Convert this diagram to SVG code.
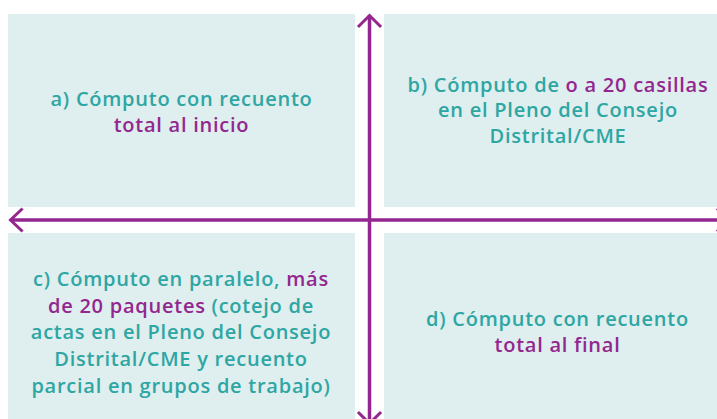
<svg xmlns="http://www.w3.org/2000/svg" width="717" height="419" viewBox="0 0 717 419">
<defs>
<style>
.box{fill:#DFEEEE;}
.t{font-family:"Open Sans","Noto Sans",sans-serif;font-weight:600;font-size:20px;letter-spacing:0.75px;fill:#2EA6A3;text-anchor:middle;}
.p{fill:#93278F;}
.ax{stroke:#93278F;stroke-width:3.5;fill:none;}
.hd{stroke:#93278F;stroke-width:3;fill:none;stroke-linecap:square;stroke-linejoin:miter;}
</style>
</defs>
<rect width="717" height="419" fill="#FFFFFF"/>
<g id="node-a">
<rect class="box" x="8" y="14" width="347" height="193"/>
<text class="t" x="181.5" y="106">a) Cómputo con recuento</text>
<text class="t p" x="181.5" y="131.7">total al inicio</text>
</g>
<g id="node-b">
<rect class="box" x="384" y="14" width="347" height="193"/>
<text class="t" x="558" y="91.7">b) Cómputo de <tspan class="p">o a 20 casillas</tspan></text>
<text class="t" x="558" y="117.2">en el Pleno del Consejo</text>
<text class="t" x="558" y="143">Distrital/CME</text>
</g>
<g id="node-c">
<rect class="box" x="8" y="233" width="347" height="193"/>
<text class="t" x="181" y="286">c) Cómputo en paralelo, <tspan class="p">más</tspan></text>
<text class="t" x="181" y="312.7"><tspan class="p">de 20 paquetes</tspan> (cotejo de</text>
<text class="t" x="181" y="339.4">actas en el Pleno del Consejo</text>
<text class="t" x="181" y="366.1">Distrital/CME y recuento</text>
<text class="t" x="181" y="392.8">parcial en grupos de trabajo)</text>
</g>
<g id="node-d">
<rect class="box" x="384" y="233" width="347" height="193"/>
<text class="t" x="557.5" y="326">d) Cómputo con recuento</text>
<text class="t p" x="557.5" y="351.7">total al final</text>
</g>
<g id="connectors">
<path class="ax" d="M369.5 15 V426"/>
<path class="ax" d="M10 220 H729"/>
<path class="hd" d="M359 26 L369.5 15.5 L380 26"/>
<path class="hd" d="M359 413 L369.5 423.5 L380 413"/>
<path class="hd" d="M21.5 209.5 L10.5 220 L21.5 230.5"/>
<path class="hd" d="M718 209.5 L729 220 L718 230.5"/>
</g>
</svg>
